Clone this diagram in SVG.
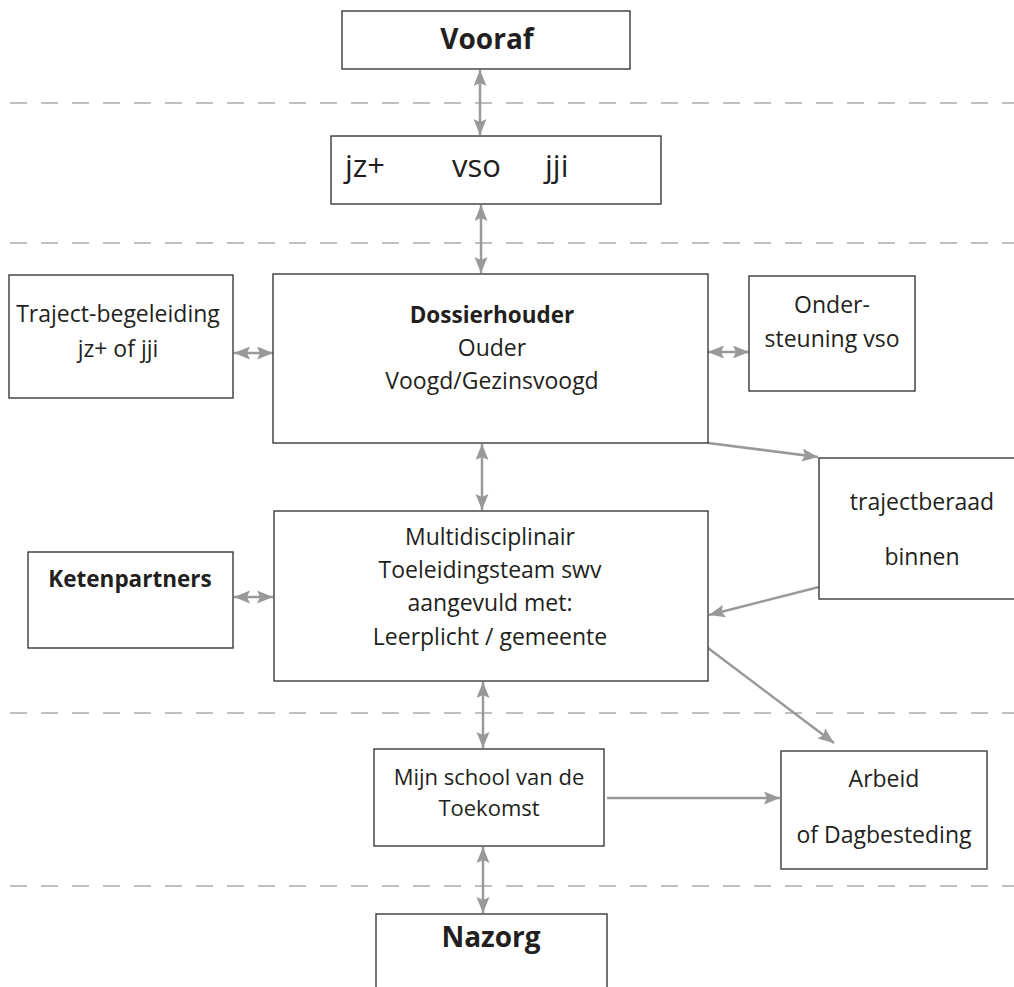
<svg xmlns="http://www.w3.org/2000/svg" width="1014" height="987" viewBox="0 0 1014 987">
<defs>
<marker id="ah" markerUnits="userSpaceOnUse" markerWidth="18" markerHeight="14" refX="16" refY="6.5" orient="auto-start-reverse">
<path d="M0,0 L16,6.5 L0,13 L3,6.5 Z" fill="#999"/>
</marker>
</defs>
<style>
.box{fill:#fff;stroke:#3a3a3a;stroke-width:1.4}
.dash{stroke:#aaa;stroke-width:1.5;stroke-dasharray:17 14;fill:none}
.con{stroke:#999;stroke-width:2.5;fill:none}
.dbl{marker-start:url(#ah);marker-end:url(#ah)}
.one{marker-end:url(#ah)}
text{font-family:"Open Sans","Noto Sans","Liberation Sans",sans-serif;fill:#231f20;text-anchor:middle}
.t{font-size:23px}
.s{font-size:22px}
.b{font-weight:bold;font-size:22.5px}
.big{font-size:31px}
.bigb{font-size:28px;font-weight:bold}
</style>
<rect width="1014" height="987" fill="#fff"/>
<g id="separators">
<line class="dash" x1="10" y1="103" x2="1014" y2="103"/>
<line class="dash" x1="10" y1="243" x2="1014" y2="243"/>
<line class="dash" x1="10" y1="713" x2="1014" y2="713"/>
<line class="dash" x1="10" y1="886" x2="1014" y2="886"/>
</g>
<g id="connectors">
<line class="con dbl" x1="480" y1="70" x2="480" y2="135"/>
<line class="con dbl" x1="481" y1="205" x2="481" y2="273"/>
<line class="con dbl" x1="234" y1="353" x2="273" y2="353"/>
<line class="con dbl" x1="708" y1="352" x2="749" y2="352"/>
<line class="con dbl" x1="482" y1="444" x2="482" y2="510"/>
<line class="con dbl" x1="234" y1="597" x2="273" y2="597"/>
<line class="con one" x1="708" y1="443" x2="818" y2="457"/>
<line class="con one" x1="819" y1="587" x2="709" y2="615"/>
<line class="con one" x1="708" y1="648" x2="834" y2="743"/>
<line class="con dbl" x1="483" y1="682" x2="483" y2="748"/>
<line class="con dbl" x1="483" y1="847" x2="483" y2="913"/>
<line class="con one" x1="607" y1="798" x2="780" y2="798"/>
</g>
<g id="vooraf">
<rect class="box" x="342" y="11" width="288" height="58"/>
<text class="bigb" x="487" y="49">Vooraf</text>
</g>
<g id="jz-vso-jji">
<rect class="box" x="331" y="136" width="330" height="68"/>
<text class="big" x="345" y="177" style="text-anchor:start">jz+</text>
<text class="big" x="452" y="177" style="text-anchor:start">vso</text>
<text class="big" x="545" y="177" style="text-anchor:start">jji</text>
</g>
<g id="trajectbegeleiding">
<rect class="box" x="9" y="275" width="224" height="123"/>
<text class="t" x="118" y="322">Traject-begeleiding</text>
<text class="t" x="118" y="357">jz+ of jji</text>
</g>
<g id="dossierhouder">
<rect class="box" x="273" y="274" width="435" height="169"/>
<text class="t b" x="492" y="323">Dossierhouder</text>
<text class="t" x="492" y="356">Ouder</text>
<text class="t" x="492" y="389">Voogd/Gezinsvoogd</text>
</g>
<g id="ondersteuning">
<rect class="box" x="749" y="276" width="166" height="115"/>
<text class="t" x="832" y="313">Onder-</text>
<text class="t" x="832" y="347">steuning vso</text>
</g>
<g id="trajectberaad">
<rect class="box" x="819" y="458" width="200" height="141"/>
<text class="t" x="922" y="510">trajectberaad</text>
<text class="t" x="922" y="565">binnen</text>
</g>
<g id="ketenpartners">
<rect class="box" x="28" y="552" width="205" height="96"/>
<text class="t b" x="130" y="587">Ketenpartners</text>
</g>
<g id="multidisciplinair">
<rect class="box" x="274" y="511" width="434" height="170"/>
<text class="t" x="490" y="545">Multidisciplinair</text>
<text class="t" x="490" y="578">Toeleidingsteam swv</text>
<text class="t" x="490" y="611">aangevuld met:</text>
<text class="t" x="490" y="645">Leerplicht / gemeente</text>
</g>
<g id="mijnschool">
<rect class="box" x="374" y="749" width="230" height="97"/>
<text class="s" x="489" y="785">Mijn school van de</text>
<text class="s" x="489" y="816">Toekomst</text>
</g>
<g id="arbeid">
<rect class="box" x="781" y="751" width="206" height="118"/>
<text class="t" x="884" y="787">Arbeid</text>
<text class="t" x="884" y="843">of Dagbesteding</text>
</g>
<g id="nazorg">
<rect class="box" x="376" y="914" width="231" height="90"/>
<text class="bigb" x="491" y="947">Nazorg</text>
</g>
</svg>
